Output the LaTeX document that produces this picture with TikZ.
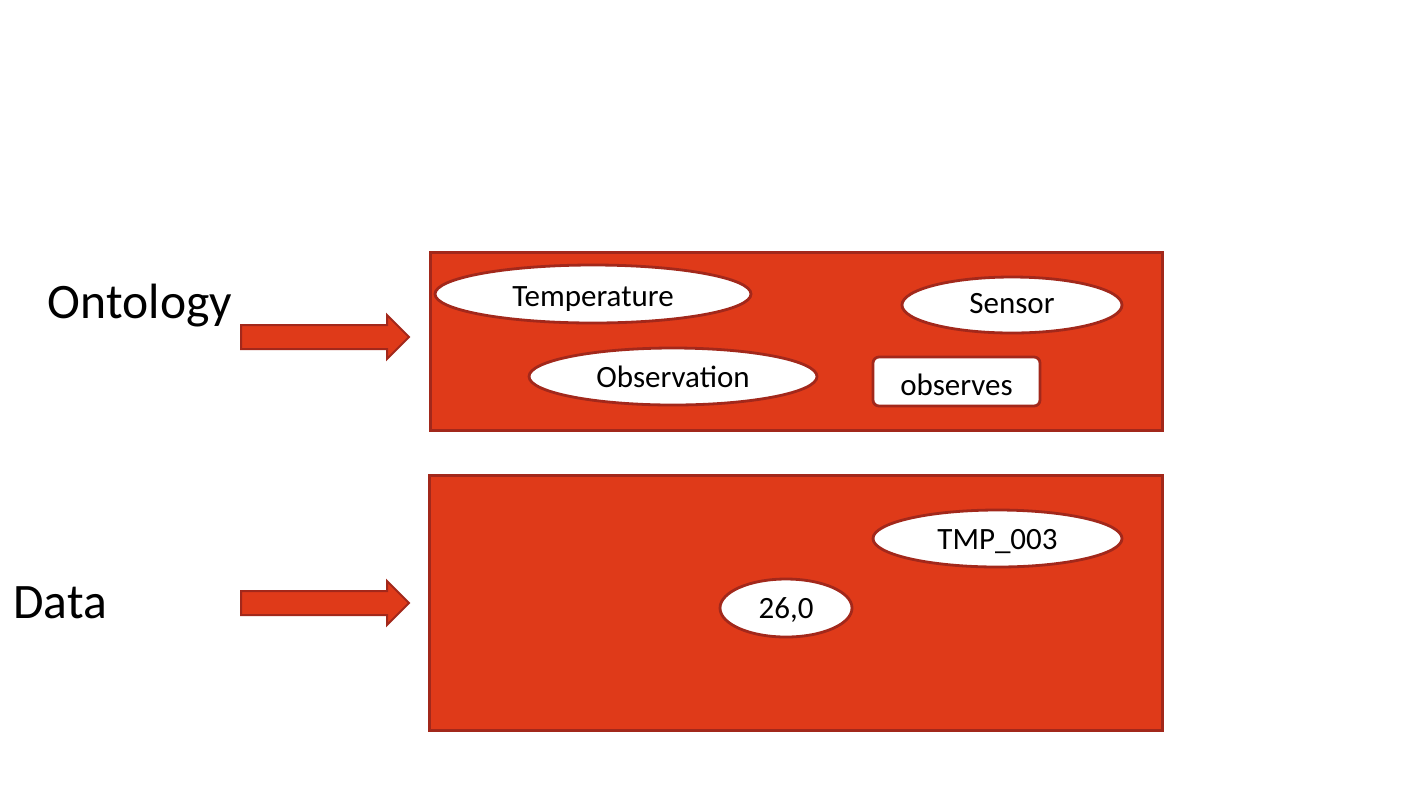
\documentclass[tikz,border=0pt]{standalone}
\usepackage{fontspec}
\setmainfont{Carlito}
\usetikzlibrary{shapes.geometric, shapes.arrows}
\definecolor{boxred}{HTML}{DF3A19}
\definecolor{edgered}{HTML}{A2281B}
\tikzstyle{layer} = [rectangle, draw=edgered, fill=boxred, line width=1.5pt, inner sep=0pt]
\tikzstyle{concept} = [ellipse, draw=edgered, fill=white, line width=1.4pt, inner sep=0pt, text height=11pt, text depth=0pt, font=\fontsize{15.5}{18}\selectfont]
\tikzstyle{relation} = [rectangle, rounded corners=3pt, draw=edgered, fill=white, line width=1.4pt, inner sep=0pt, text height=13.5pt, text depth=0pt, font=\fontsize{15.5}{18}\selectfont]
\tikzstyle{layername} = [inner sep=0pt, font=\fontsize{24.8}{30}\selectfont]
\tikzstyle{blockarrow} = [single arrow, draw=edgered, fill=boxred, line width=1pt, minimum height=84pt, inner xsep=0pt, inner ysep=5.5pt, text height=0pt, text depth=0pt, single arrow head extend=5pt, anchor=tail]

\begin{document}
\begin{tikzpicture}[x=0.5pt, y=-0.5pt]

        \useasboundingbox (0,0) rectangle (1411,794);

        % Layers
        \node (ontobox) [layer, minimum width=366pt, minimum height=89pt] at (796,341) {};
        \node (databox) [layer, minimum width=366.5pt, minimum height=127.5pt] at (795.5,602.5) {};

        % Layer names and arrows
        \node (ontology) [layername] at (140,306) {Ontology};
        \node (data) [layername] at (60,603) {Data};
        \node (ontoarrow) [blockarrow] at (240,337) {};
        \node (dataarrow) [blockarrow] at (240,603) {};

        % Ontology terms
        \node (temperature) [concept, text height=12pt, minimum width=158pt, minimum height=29pt] at (593,294) {Temperature};
        \node (sensor) [concept, text height=8pt, minimum width=110pt, minimum height=28pt] at (1012,305) {Sensor};
        \node (observation) [concept, minimum width=144pt, minimum height=28.5pt] at (673,376.5) {Observation};
        \node (observes) [relation, minimum width=83.5pt, minimum height=24.5pt] at (956.5,381.5) {observes};

        % Data values
        \node (tmp) [concept, minimum width=124.5pt, minimum height=28.5pt] at (997.5,538.5) {TMP\_003};
        \node (value) [concept, text height=10pt, minimum width=66pt, minimum height=29pt] at (786,608) {26,0};

    \end{tikzpicture}
\end{document}
